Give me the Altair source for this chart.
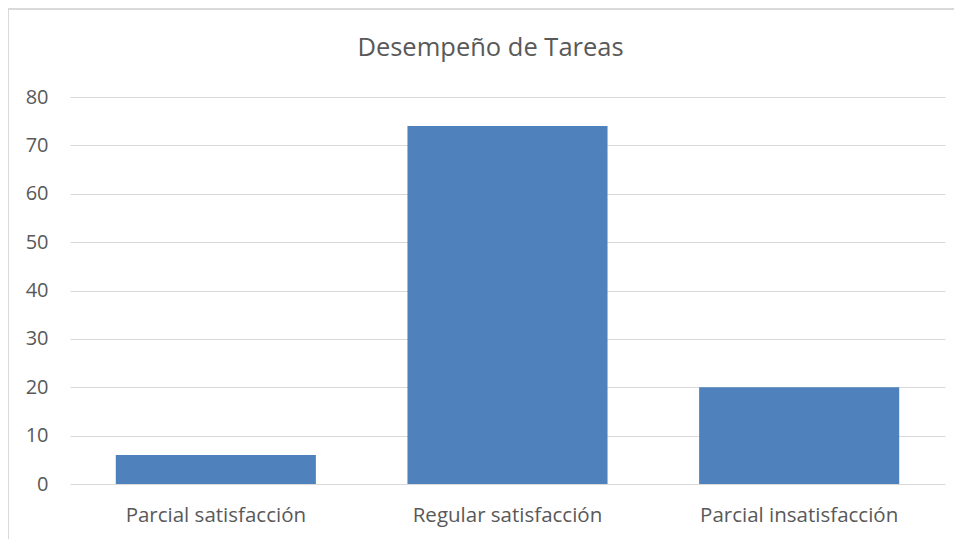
import altair as alt
import pandas as pd

categories = ["Parcial satisfacción", "Regular satisfacción", "Parcial insatisfacción"]
values = [6, 74, 20]
y_ticks = [0, 10, 20, 30, 40, 50, 60, 70, 80]

df = pd.DataFrame({"cat": categories, "val": values})

FONT = "Open Sans"
TXT = "#595959"
GRID = "#d9d9d9"

bars = alt.Chart(df).mark_bar(color="#4F81BD").encode(
    x=alt.X("cat:N", sort=categories,
            scale=alt.Scale(paddingInner=0.314, paddingOuter=0.157),
            axis=alt.Axis(title=None, labelAngle=0, ticks=False, domain=False,
                          labelFontSize=20.5, labelColor=TXT, labelFont=FONT,
                          labelPadding=21, labelLimit=400, grid=False)),
    y=alt.Y("val:Q", scale=alt.Scale(domain=[0, 80], nice=False),
            axis=alt.Axis(title=None, values=y_ticks, ticks=False, domain=False,
                          labelFontSize=20, labelColor=TXT, labelFont=FONT,
                          labelPadding=22, gridColor=GRID, gridWidth=1)),
)

frame = pd.DataFrame({"a": [0]})
top_border = alt.Chart(frame).mark_rule(color=GRID, strokeWidth=2).encode(
    x=alt.value(-62), x2=alt.value(1000), y=alt.value(-88)
)
left_border = alt.Chart(frame).mark_rule(color=GRID, strokeWidth=2).encode(
    x=alt.value(-62), y=alt.value(-88), y2=alt.value(500)
)

chart = alt.layer(bars, top_border, left_border).properties(
    width=875, height=387,
    autosize=alt.AutoSizeParams(type="none"),
    padding={"left": 62, "top": 89, "right": 9, "bottom": 55},
    title=alt.TitleParams("Desempeño de Tareas", fontSize=25.5, font=FONT,
                          color=TXT, fontWeight="normal", offset=-53, dx=-17),
).configure_view(stroke=None).configure_axis(labelFont=FONT)

chart.save("out.html", embed_options={"renderer": "svg", "actions": False})
